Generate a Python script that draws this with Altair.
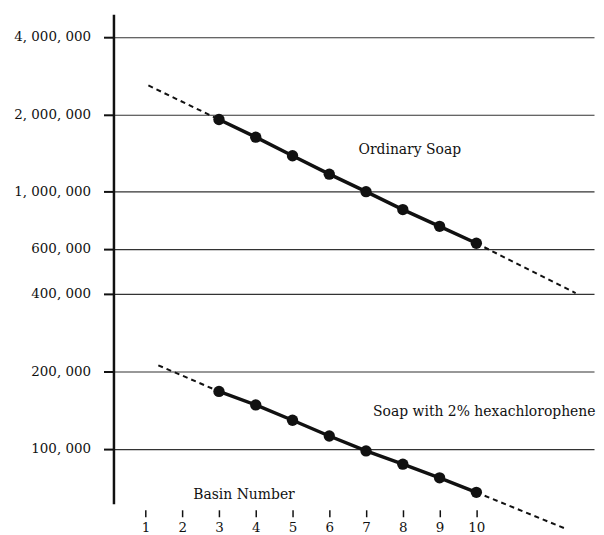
import altair as alt
import pandas as pd

basins = [3, 4, 5, 6, 7, 8, 9, 10]
ordinary = [1910000, 1630000, 1380000, 1170000, 1000000, 852000, 733000, 630000]
hexa = [167000, 148000, 129000, 112000, 98000, 87000, 77000, 67600]

# extrapolated (dashed) ends of each line
ord_start_x, ord_start_y = 1.08, 2590000
ord_end_x, ord_end_y = 12.7, 403000
hex_start_x, hex_start_y = 1.35, 211000
hex_end_x, hex_end_y = 12.4, 49000

y_ticks = [100000, 200000, 400000, 600000, 1000000, 2000000, 4000000]
x_ticks = [1, 2, 3, 4, 5, 6, 7, 8, 9, 10]

labels_txt = ["Ordinary Soap", "Soap with 2% hexachlorophene", "Basin Number"]
labels_x = [8.19, 7.19, 3.68]
labels_y = [1450000, 139000, 65900]
labels_align = ["center", "left", "center"]

FONT = "DejaVu Serif"
INK = "#111111"

pts = pd.DataFrame({
    "basin": basins * 2,
    "count": ordinary + hexa,
    "series": ["Ordinary Soap"] * len(basins) + ["Hexachlorophene"] * len(basins),
})
trend = pd.DataFrame({
    "basin": [ord_start_x, basins[0], basins[-1], ord_end_x,
              hex_start_x, basins[0], basins[-1], hex_end_x],
    "count": [ord_start_y, ordinary[0], ordinary[-1], ord_end_y,
              hex_start_y, hexa[0], hexa[-1], hex_end_y],
    "seg": ["o1", "o1", "o2", "o2", "h1", "h1", "h2", "h2"],
})
lab = pd.DataFrame({"t": labels_txt, "x": labels_x, "y": labels_y, "a": labels_align})

xs = alt.Scale(domain=[0.13, 13.2], nice=False, zero=False)
ys = alt.Scale(type="log", domain=[61000, 4900000], nice=False)

xaxis = alt.Axis(values=x_ticks, title=None, domain=False, grid=False, offset=6,
                 tickSize=7, tickWidth=1.5, tickColor=INK, labelFont=FONT,
                 labelFontSize=13.5, labelColor=INK, labelPadding=4, format="d")
yaxis = alt.Axis(values=y_ticks, title=None, domain=True, domainColor=INK, domainWidth=2.5,
                 grid=True, gridColor="#333333", gridWidth=1.1, tickSize=10, tickWidth=2,
                 tickColor=INK, labelFont=FONT, labelFontSize=13.5, labelColor=INK,
                 labelPadding=13,
                 labelExpr="replace(format(datum.value, ','), regexp(',', 'g'), ', ')")

dash = alt.Chart(trend).mark_line(color=INK, strokeWidth=2, strokeDash=[5, 4], clip=False).encode(
    x=alt.X("basin:Q", scale=xs, axis=xaxis),
    y=alt.Y("count:Q", scale=ys, axis=yaxis),
    detail="seg:N",
)
solid = alt.Chart(pts).mark_line(color=INK, strokeWidth=3.5).encode(
    x=alt.X("basin:Q", scale=xs), y=alt.Y("count:Q", scale=ys), detail="series:N"
)
dots = alt.Chart(pts).mark_circle(color=INK, size=130, opacity=1).encode(
    x=alt.X("basin:Q", scale=xs), y=alt.Y("count:Q", scale=ys)
)
texts_c = alt.Chart(lab[lab.a == "center"]).mark_text(font=FONT, fontSize=14, color=INK, align="center").encode(
    x=alt.X("x:Q", scale=xs), y=alt.Y("y:Q", scale=ys), text="t:N"
)
texts_l = alt.Chart(lab[lab.a == "left"]).mark_text(font=FONT, fontSize=14, color=INK, align="left").encode(
    x=alt.X("x:Q", scale=xs), y=alt.Y("y:Q", scale=ys), text="t:N"
)

chart = alt.layer(dash, solid, dots, texts_c, texts_l).properties(
    width=483, height=492,
    padding={"left": 5, "top": 5, "right": 0, "bottom": 0},
).configure_view(stroke=None)

chart.save("out.html", embed_options={"renderer": "svg", "actions": False})
